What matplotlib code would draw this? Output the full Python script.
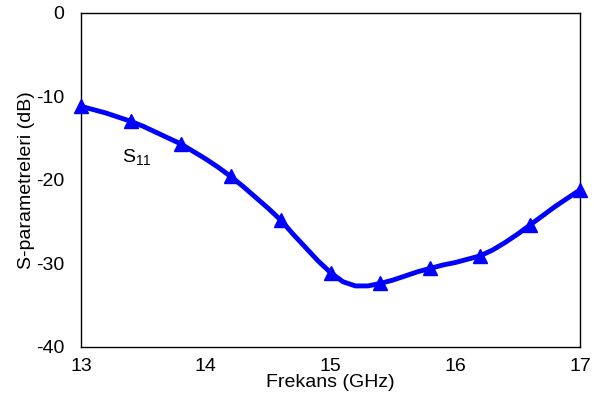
import matplotlib
matplotlib.use('Agg')
import matplotlib.pyplot as plt

plt.rcParams['font.family'] = ['Liberation Sans', 'DejaVu Sans']
plt.rcParams['axes.unicode_minus'] = False

# S11 egrisi (GHz, dB)
freq = [13.0, 13.1, 13.2, 13.3, 13.4, 13.5, 13.6, 13.7, 13.8, 13.9, 14.0,
        14.1, 14.2, 14.3, 14.4, 14.5, 14.6, 14.7, 14.8, 14.9, 15.0,
        15.1, 15.2, 15.3, 15.4, 15.5, 15.6, 15.7, 15.8, 15.9, 16.0,
        16.1, 16.2, 16.3, 16.4, 16.5, 16.6, 16.7, 16.8, 16.9, 17.0]
s11 = [-11.2, -11.6, -12.0, -12.5, -13.0, -13.6, -14.3, -15.0, -15.7, -16.6, -17.5,
       -18.5, -19.6, -20.8, -22.1, -23.4, -24.8, -26.5, -28.1, -29.7, -31.1,
       -32.2, -32.7, -32.7, -32.4, -32.0, -31.5, -31.0, -30.6, -30.2, -29.9,
       -29.5, -29.1, -28.4, -27.5, -26.5, -25.4, -24.3, -23.2, -22.2, -21.2]

# isaretli noktalar
mark_freq = [13.0, 13.4, 13.8, 14.2, 14.6, 15.0, 15.4, 15.8, 16.2, 16.6, 17.0]
mark_s11 = [-11.2, -13.0, -15.7, -19.6, -24.8, -31.1, -32.3, -30.6, -29.1, -25.4, -21.2]

fig = plt.figure(figsize=(5.94, 4.12), dpi=100)
ax = fig.add_axes([0.1364, 0.158, 0.840, 0.811])

ax.plot(freq, s11, color='#0000ff', lw=3.5, solid_capstyle='round',
        solid_joinstyle='round', zorder=3, clip_on=False)
ax.plot(mark_freq, mark_s11, ls='none', marker='^', ms=10, color='#0000ff', zorder=4, clip_on=False)

ax.text(13.33, -17.4, 'S$_{\\mathregular{11}}$', fontsize=14, va='center', ha='left')

ax.set_xlim(13, 17)
ax.set_ylim(-40, 0)
ax.set_xticks([13, 14, 15, 16, 17])
ax.set_yticks([0, -10, -20, -30, -40])
ax.tick_params(length=0, labelsize=14)
ax.tick_params(axis='x', pad=8)
ax.tick_params(axis='y', pad=12)
ax.set_xlabel('Frekans (GHz)', fontsize=14, labelpad=-1)
ax.set_ylabel('S-parametreleri (dB)', fontsize=14, labelpad=1)
for sp in ax.spines.values():
    sp.set_linewidth(1)

fig.savefig('out.png', dpi=100)
